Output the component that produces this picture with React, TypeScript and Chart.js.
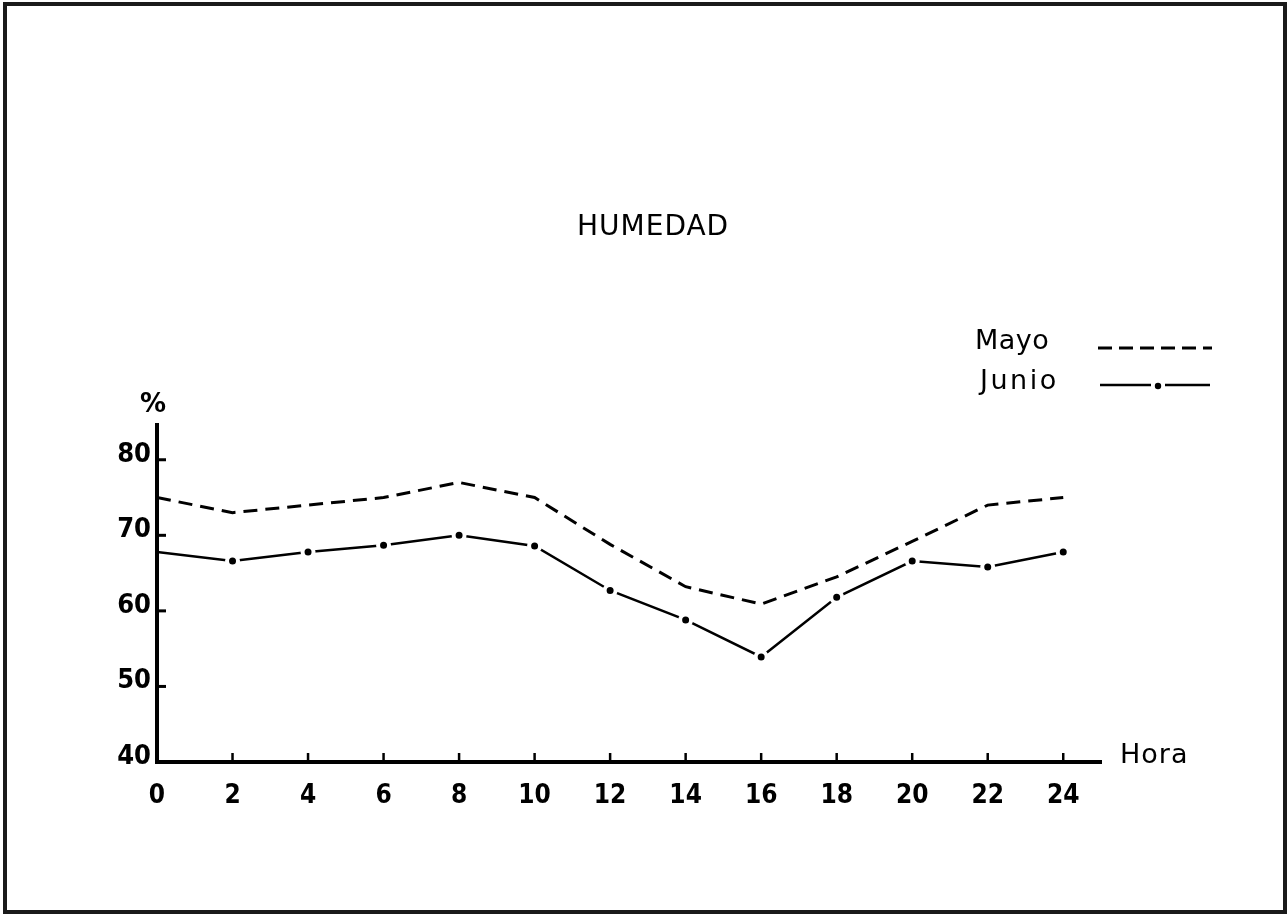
import React, { useEffect, useRef } from "react";
import { Chart, registerables } from "chart.js";

Chart.register(...registerables);

const HOURS = [0, 2, 4, 6, 8, 10, 12, 14, 16, 18, 20, 22, 24];
const MAYO = [75, 73, 74, 75, 77, 75, 68.8, 63.2, 60.9, 64.5, 69.2, 74, 75];
const JUNIO = [67.8, 66.6, 67.8, 68.7, 70, 68.6, 62.7, 58.8, 53.9, 61.8, 66.6, 65.8, 67.8];
const X_TICKS = [0, 2, 4, 6, 8, 10, 12, 14, 16, 18, 20, 22, 24];
const Y_TICKS = [40, 50, 60, 70, 80];

const TITLE = "HUMEDAD";
const SERIES_NAMES = ["Mayo", "Junio"];
const Y_UNIT = "%";
const X_UNIT = "Hora";

const FONT = "'DejaVu Sans Condensed', 'DejaVu Sans', sans-serif";

const tickMarks = {
  id: "tickMarks",
  afterDatasetsDraw(chart: any) {
    const ctx = chart.ctx;
    const xs = chart.scales.x;
    const ys = chart.scales.y;
    const area = chart.chartArea;
    ctx.save();
    ctx.strokeStyle = "#000";
    ctx.lineWidth = 3;
    Y_TICKS.forEach((v) => {
      if (v === Y_TICKS[0]) return;
      const py = ys.getPixelForValue(v);
      ctx.beginPath();
      ctx.moveTo(area.left, py);
      ctx.lineTo(area.left + 9, py);
      ctx.stroke();
    });
    ctx.lineWidth = 2.5;
    X_TICKS.forEach((v) => {
      if (v === X_TICKS[0]) return;
      const px = xs.getPixelForValue(v);
      ctx.beginPath();
      ctx.moveTo(px, area.bottom);
      ctx.lineTo(px, area.bottom - 9);
      ctx.stroke();
    });
    ctx.restore();
  },
  afterDraw(chart: any) {
    const ctx = chart.ctx;
    ctx.save();
    ctx.strokeStyle = "#000";
    // Mayo sample
    ctx.lineWidth = 3;
    ctx.setLineDash([14, 7]);
    ctx.beginPath();
    ctx.moveTo(1098, 348);
    ctx.lineTo(1212, 348);
    ctx.stroke();
    // Junio sample
    ctx.setLineDash([]);
    ctx.lineWidth = 2.5;
    ctx.beginPath();
    ctx.moveTo(1100, 385);
    ctx.lineTo(1151, 385);
    ctx.moveTo(1165, 385);
    ctx.lineTo(1210, 385);
    ctx.stroke();
    ctx.fillStyle = "#000";
    ctx.beginPath();
    ctx.arc(1158, 386, 3.2, 0, Math.PI * 2);
    ctx.fill();
    ctx.restore();
  },
};

export default function App() {
  const canvasRef = useRef<HTMLCanvasElement | null>(null);

  useEffect(() => {
    if (!canvasRef.current) return;
    const chart = new Chart(canvasRef.current, {
      type: "line",
      data: {
        datasets: [
          {
            label: SERIES_NAMES[0],
            data: HOURS.map((h, i) => ({ x: h, y: MAYO[i] })),
            borderColor: "#000",
            borderWidth: 3,
            borderDash: [14, 8],
            pointRadius: 0,
            tension: 0,
            fill: false,
          },
          {
            label: SERIES_NAMES[1],
            data: HOURS.map((h, i) => ({ x: h, y: JUNIO[i] })),
            borderColor: "#000",
            borderWidth: 2.5,
            pointRadius: HOURS.map((_, i) => (i === 0 ? 0 : 5.5)),
            pointBackgroundColor: "#000",
            pointBorderColor: "#fff",
            pointBorderWidth: 4,
            tension: 0,
            fill: false,
          },
        ],
      },
      options: {
        animation: false,
        responsive: false,
        events: [],
        layout: { padding: { top: 425, right: 187, bottom: 0, left: 0 } },
        plugins: {
          legend: { display: false },
          title: { display: false },
          tooltip: { enabled: false },
        },
        scales: {
          x: {
            type: "linear",
            min: 0,
            max: 25,
            afterBuildTicks: (scale: any) => {
              scale.ticks = X_TICKS.map((v) => ({ value: v }));
            },
            afterFit: (scale: any) => {
              scale.height = 154;
            },
            grid: { display: false, drawTicks: false },
            border: { display: true, color: "#000", width: 4 },
            ticks: {
              color: "#000",
              padding: 19,
              maxRotation: 0,
              autoSkip: false,
              font: { family: FONT, size: 26, weight: "bold" },
            },
          },
          y: {
            type: "linear",
            min: 40,
            max: 84.6,
            afterBuildTicks: (scale: any) => {
              scale.ticks = Y_TICKS.map((v) => ({ value: v }));
            },
            afterFit: (scale: any) => {
              scale.width = 157;
            },
            grid: { display: false, drawTicks: false },
            border: { display: true, color: "#000", width: 4 },
            ticks: {
              color: "#000",
              padding: 6,
              labelOffset: -5,
              font: { family: FONT, size: 27, weight: "bold" },
            },
          },
        },
      },
      plugins: [tickMarks],
    } as any);
    return () => chart.destroy();
  }, []);

  const textStyle: React.CSSProperties = {
    position: "absolute",
    fontFamily: "'DejaVu Sans', sans-serif",
    color: "#000",
    whiteSpace: "nowrap",
    lineHeight: 1,
  };

  return (
    <div
      style={{
        position: "fixed",
        left: 0,
        top: 0,
        width: 1288,
        height: 916,
        background: "#fff",
        overflow: "hidden",
      }}
    >
      <div
        style={{
          position: "absolute",
          left: 3,
          top: 2,
          width: 1276,
          height: 904,
          border: "4px solid #1a1a1a",
        }}
      />
      <canvas
        ref={canvasRef}
        width={1288}
        height={916}
        style={{ position: "absolute", left: 0, top: 0, width: 1288, height: 916 }}
      />
      <div style={{ ...textStyle, left: 577, top: 212, fontSize: 28, letterSpacing: 1 }}>{TITLE}</div>
      <div style={{ ...textStyle, left: 975, top: 326, fontSize: 27, letterSpacing: 0.5 }}>{SERIES_NAMES[0]}</div>
      <div style={{ ...textStyle, left: 980, top: 366, fontSize: 27, letterSpacing: 2.5 }}>{SERIES_NAMES[1]}</div>
      <div style={{ ...textStyle, left: 140, top: 390, fontSize: 26, fontWeight: "bold" }}>{Y_UNIT}</div>
      <div style={{ ...textStyle, left: 1120, top: 740, fontSize: 27, letterSpacing: 1 }}>{X_UNIT}</div>
    </div>
  );
}
